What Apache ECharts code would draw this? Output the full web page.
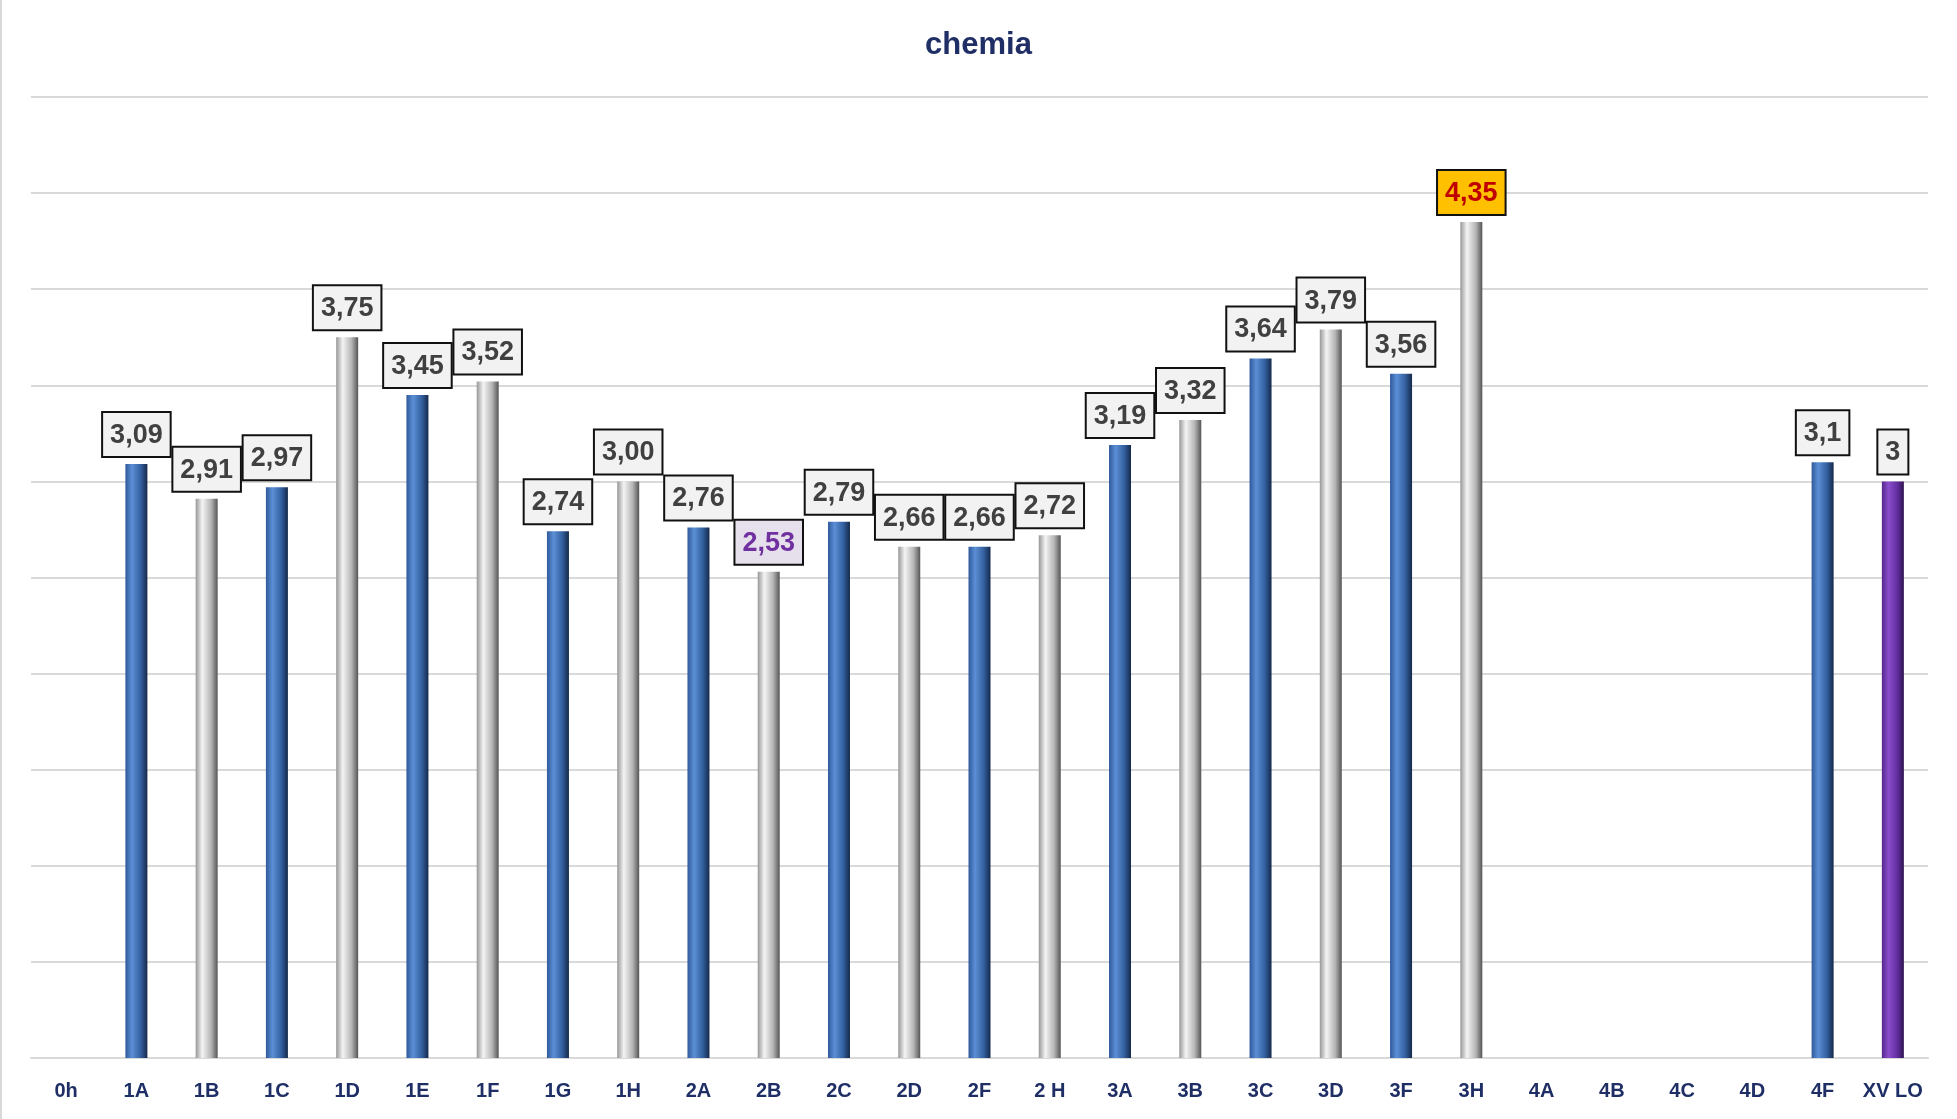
<!DOCTYPE html>
<html>
<head>
<meta charset="utf-8">
<title>chemia</title>
<script src="https://cdn.jsdelivr.net/npm/echarts@6/dist/echarts.min.js"></script>
<style>
  html, body { margin: 0; padding: 0; background: #fff; }
  #chart { width: 1957px; height: 1119px; }
</style>
</head>
<body>
<div id="chart"></div>
<script>
// classes on the x axis
var classes = ['0h', '1A', '1B', '1C', '1D', '1E', '1F', '1G', '1H', '2A', '2B', '2C', '2D', '2F', '2 H',
  '3A', '3B', '3C', '3D', '3F', '3H', '4A', '4B', '4C', '4D', '4F', 'XV LO'];
// average grade per class (null = no bar)
var grades = [null, 3.09, 2.91, 2.97, 3.75, 3.45, 3.52, 2.74, 3.00, 2.76, 2.53, 2.79, 2.66, 2.66, 2.72,
  3.19, 3.32, 3.64, 3.79, 3.56, 4.35, null, null, null, null, 3.1, 3];
// label text as printed on the chart
var gradeLabels = ['', '3,09', '2,91', '2,97', '3,75', '3,45', '3,52', '2,74', '3,00', '2,76', '2,53', '2,79', '2,66', '2,66', '2,72',
  '3,19', '3,32', '3,64', '3,79', '3,56', '4,35', '', '', '', '', '3,1', '3'];

var FONT = '"Liberation Sans", Arial, sans-serif';

function grad(c0, c1, c2, c3) {
  return new echarts.graphic.LinearGradient(0, 0, 1, 0, [
    { offset: 0, color: c0 },
    { offset: 0.3, color: c1 },
    { offset: 0.7, color: c2 },
    { offset: 1, color: c3 }
  ]);
}
var blue = grad('#30599a', '#5b8fd6', '#335f9e', '#15294a');
var grey = grad('#979797', '#f4f4f4', '#b5b5b5', '#555555');
var purple = grad('#55288c', '#8a4ccc', '#622ea0', '#2f1450');

var baseLabel = {
  show: true,
  position: 'top',
  distance: 8,
  fontFamily: FONT,
  fontWeight: 'bold',
  fontSize: 27,
  lineHeight: 29,
  color: '#404040',
  backgroundColor: '#f2f2f2',
  borderColor: '#111',
  borderWidth: 2,
  padding: [8, 7, 6, 7]
};

var seriesData = grades.map(function (v, i) {
  var name = classes[i];
  var label = Object.assign({}, baseLabel, {
    formatter: function () { return gradeLabels[i]; }
  });
  var color = (i % 2 === 1) ? blue : grey;
  if (name === 'XV LO') color = purple;
  if (name === '3H') {
    label.color = '#c00000';
    label.backgroundColor = '#ffc000';
  }
  if (name === '2B') {
    label.color = '#7030a0';
    label.backgroundColor = '#e6e0ec';
  }
  if (v === null) label.show = false;
  return { value: v, itemStyle: { color: color }, label: label };
});

var chart = echarts.init(document.getElementById('chart'));
var option = {
  animation: false,
  title: {
    text: 'chemia',
    left: 'center',
    top: 25,
    textStyle: { fontFamily: FONT, fontWeight: 'bold', fontSize: 31, color: '#1f2f66' }
  },
  graphic: [{
    type: 'rect',
    shape: { x: 0, y: 0, width: 2, height: 1119 },
    style: { fill: '#d9d9d9' }
  }],
  grid: { left: 31, right: 29, top: 97, bottom: 61, containLabel: false },
  xAxis: {
    type: 'category',
    data: classes,
    axisTick: { show: false },
    axisLine: { lineStyle: { color: '#d9d9d9', width: 2 } },
    axisLabel: {
      interval: 0,
      margin: 23,
      fontFamily: FONT,
      fontWeight: 'bold',
      fontSize: 20,
      color: '#1f2f66'
    }
  },
  yAxis: {
    type: 'value',
    min: 0,
    max: 5,
    interval: 0.5,
    axisLabel: { show: false },
    axisLine: { show: false },
    axisTick: { show: false },
    splitLine: { lineStyle: { color: '#d9d9d9', width: 2 } }
  },
  series: [{
    type: 'bar',
    barWidth: 22,
    data: seriesData
  }]
};
chart.setOption(option);
</script>
</body>
</html>
